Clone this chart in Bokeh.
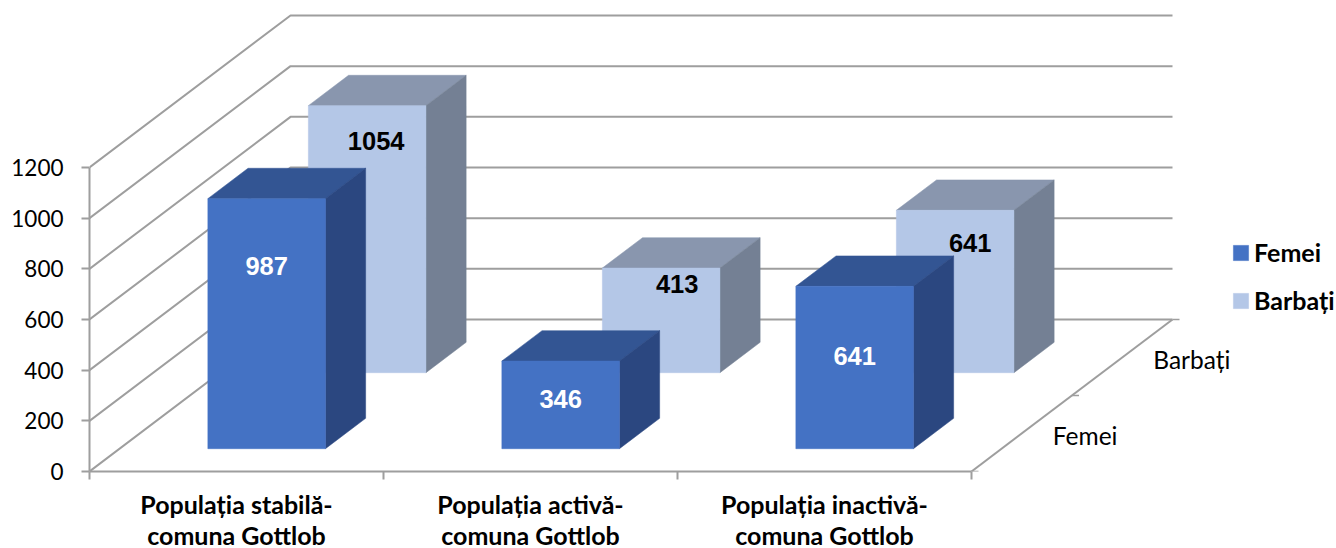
from bokeh.plotting import figure
from bokeh.models import Range1d, FixedTicker, Legend, LegendItem
from bokeh.core.properties import value
from bokeh.embed import file_html
from bokeh.resources import INLINE

categories = ["Populația stabilă-\ncomuna Gottlob", "Populația activă-\ncomuna Gottlob", "Populația inactivă-\ncomuna Gottlob"]
series_names = ["Femei", "Barbați"]
femei = [987, 346, 641]
barbati = [1054, 413, 641]
value_ticks = [0, 200, 400, 600, 800, 1000, 1200]

# oblique projection: one depth band moves a point right and up in data units
W, H = 1336, 548
LEFT, BOTTOM = 89, 471
PX_PER_CAT, PX_PER_VAL = 294, 304 / 1200
DX, DY = 100.5 / PX_PER_CAT, 76 / PX_PER_VAL

def px(c, s):
    return c + s * DX

def py(v, s):
    return v + s * DY

p = figure(frame_width=W - LEFT, frame_height=BOTTOM, output_backend="svg", toolbar_location=None,
           x_range=Range1d(0, (W - LEFT) / PX_PER_CAT), y_range=Range1d(0, BOTTOM / PX_PER_VAL),
           min_border_left=LEFT, min_border_bottom=H - BOTTOM, min_border_top=0, min_border_right=0,
           outline_line_color=None, background_fill_color="white", border_fill_color="white")
p.styles = {"margin": "0 0 -60px 0"}
p.grid.visible = False

GRID = "#9e9e9e"
# walls
for v in value_ticks:
    p.line([px(0, 0), px(0, 2), px(3, 2)], [py(v, 0), py(v, 2), py(v, 2)], line_color=GRID, line_width=2)
# floor right edge and depth ticks
p.line([px(3, 0), px(3, 2)], [py(0, 0), py(0, 2)], line_color=GRID, line_width=2)
for s in [0, 1, 2]:
    p.line([px(3, s), px(3, s) + 7 / PX_PER_CAT], [py(0, s), py(0, s)], line_color=GRID, line_width=1.5)

def bar_faces(vals, s0, s1):
    c0 = [i + 0.3 for i in range(len(vals))]
    c1 = [i + 0.7 for i in range(len(vals))]
    front_x = [[px(a, s0), px(b, s0), px(b, s0), px(a, s0)] for a, b in zip(c0, c1)]
    front_y = [[py(0, s0), py(0, s0), py(v, s0), py(v, s0)] for v in vals]
    top_x = [[px(a, s0), px(b, s0), px(b, s1), px(a, s1)] for a, b in zip(c0, c1)]
    top_y = [[py(v, s0), py(v, s0), py(v, s1), py(v, s1)] for v in vals]
    side_x = [[px(b, s0), px(b, s1), px(b, s1), px(b, s0)] for b in c1]
    side_y = [[py(0, s0), py(0, s1), py(v, s1), py(v, s0)] for v in vals]
    return (front_x, front_y), (top_x, top_y), (side_x, side_y)

def draw(vals, s0, front, top, side):
    f, t, d = bar_faces(vals, s0, s0 + 0.4)
    p.patches(t[0], t[1], fill_color=top, line_color=top, line_width=0.5)
    p.patches(d[0], d[1], fill_color=side, line_color=side, line_width=0.5)
    return p.patches(f[0], f[1], fill_color=front, line_color=front, line_width=0.5)

r_b = draw(barbati, 1.3, "#B4C7E7", "#8996AE", "#748094")
r_f = draw(femei, 0.3, "#4472C4", "#335593", "#2B4780")

# data labels (hand-placed in the source, offsets in px from top-front centre)
LABEL_FONT = value("Liberation Sans")
fem_dy = [67, 38, 70]
bar_dy = [35, 16, 33]
bar_dx = [9, 16, 15]
p.text([px(i + 0.5, 1.3) for i in range(3)], [py(v, 1.3) for v in barbati], text=[str(v) for v in barbati],
       x_offset=bar_dx, y_offset=bar_dy, text_align="center", text_baseline="middle",
       text_font=LABEL_FONT, text_font_style="bold", text_font_size="25.5px", text_color="black")
p.text([px(i + 0.5, 0.3) for i in range(3)], [py(v, 0.3) for v in femei], text=[str(v) for v in femei],
       x_offset=0, y_offset=fem_dy, text_align="center", text_baseline="middle",
       text_font=LABEL_FONT, text_font_style="bold", text_font_size="25.5px", text_color="white")

# depth axis labels
p.text([px(3, s + 0.5) for s in range(2)], [py(0, s + 0.5) for s in range(2)], text=series_names,
       x_offset=31, y_offset=2, text_align="left", text_baseline="middle",
       text_font=value("Lato"), text_font_size="24.5px", text_color="black")

# axes
ax = p.yaxis[0]
ax.ticker = FixedTicker(ticks=value_ticks)
ax.bounds = (0, 1200)
ax.axis_line_color = GRID
ax.axis_line_width = 2
ax.major_tick_line_color = GRID
ax.major_tick_line_width = 2
ax.major_tick_in = 0
ax.major_tick_out = 8
ax.minor_tick_line_color = None
ax.major_label_text_font = "Lato"
ax.major_label_text_font_size = "22.5px"
ax.major_label_text_color = "black"
ax.major_label_standoff = 18

bx = p.xaxis[0]
bx.ticker = FixedTicker(ticks=[0.5, 1.5, 2.5], minor_ticks=[0, 1, 2, 3])
bx.bounds = (0, 3)
bx.major_label_overrides = {0.5: categories[0], 1.5: categories[1], 2.5: categories[2]}
bx.axis_line_color = GRID
bx.axis_line_width = 2
bx.major_tick_line_color = None
bx.major_tick_in = 0
bx.major_tick_out = 0
bx.minor_tick_line_color = GRID
bx.minor_tick_line_width = 2
bx.minor_tick_in = 0
bx.minor_tick_out = 8
bx.major_label_text_font = "Lato"
bx.major_label_text_font_size = "25px"
bx.major_label_text_font_style = "bold"
bx.major_label_text_line_height = 1.06
bx.major_label_text_color = "black"
bx.major_label_standoff = 9

legend = Legend(items=[LegendItem(label=series_names[0], renderers=[r_f]),
                       LegendItem(label=series_names[1], renderers=[r_b])],
                location=(1231 - LEFT, BOTTOM - 315), orientation="vertical",
                background_fill_alpha=0, border_line_color=None,
                glyph_width=19, glyph_height=19, spacing=18, padding=0, margin=0, label_standoff=4,
                label_text_font="Lato", label_text_font_style="bold", label_text_font_size="25px",
                label_text_color="black", label_height=28)
p.add_layout(legend)

open("out.html", "w").write(file_html(p, INLINE))
